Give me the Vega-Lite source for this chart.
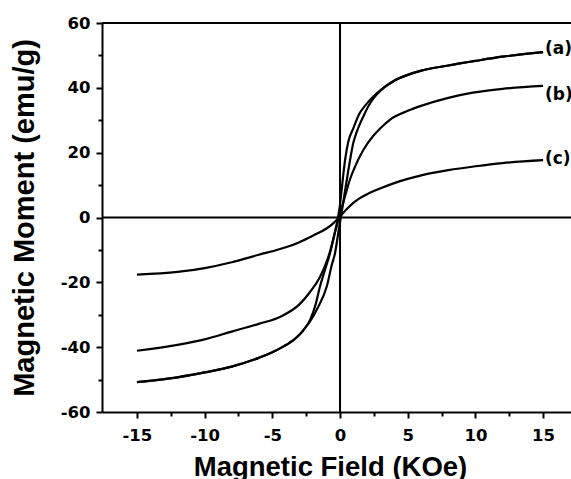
{
  "$schema": "https://vega.github.io/schema/vega-lite/v6.json",
  "autosize": "none",
  "padding": {"left": 102, "top": 23, "right": 0, "bottom": 67},
  "width": 469,
  "height": 389,
  "background": "white",
  "config": {
    "view": {"stroke": null},
    "axis": {
      "grid": false,
      "domainColor": "black",
      "domainWidth": 2,
      "tickColor": "black",
      "tickWidth": 2,
      "labelColor": "black",
      "labelFont": "DejaVu Sans",
      "labelFontWeight": "bold",
      "labelFontSize": 16.5,
      "titleColor": "black",
      "titleFont": "Liberation Sans",
      "titleFontWeight": "bold"
    }
  },
  "datasets": {
    "curves": [
      {"s": "a1", "H": -15, "M": -50.8}, {"s": "a1", "H": -12, "M": -49.3}, {"s": "a1", "H": -10, "M": -47.8},
      {"s": "a1", "H": -8, "M": -46}, {"s": "a1", "H": -6, "M": -43.3}, {"s": "a1", "H": -5, "M": -41.6},
      {"s": "a1", "H": -4.4, "M": -40.3}, {"s": "a1", "H": -3.5, "M": -38}, {"s": "a1", "H": -3, "M": -36.2},
      {"s": "a1", "H": -2.6, "M": -34.2}, {"s": "a1", "H": -2.2, "M": -31.5}, {"s": "a1", "H": -1.8, "M": -26.8},
      {"s": "a1", "H": -1.48, "M": -21.3}, {"s": "a1", "H": -1.1, "M": -16}, {"s": "a1", "H": -0.74, "M": -11},
      {"s": "a1", "H": -0.4, "M": -5}, {"s": "a1", "H": -0.15, "M": 0}, {"s": "a1", "H": 0, "M": 4},
      {"s": "a1", "H": 0.12, "M": 8.5}, {"s": "a1", "H": 0.25, "M": 13.5}, {"s": "a1", "H": 0.4, "M": 18.5},
      {"s": "a1", "H": 0.62, "M": 23.5}, {"s": "a1", "H": 0.98, "M": 27.5}, {"s": "a1", "H": 1.4, "M": 31.8},
      {"s": "a1", "H": 1.85, "M": 34.5}, {"s": "a1", "H": 2.5, "M": 37.5}, {"s": "a1", "H": 3, "M": 39.3},
      {"s": "a1", "H": 4, "M": 42.2}, {"s": "a1", "H": 5, "M": 44}, {"s": "a1", "H": 6, "M": 45.3},
      {"s": "a1", "H": 8, "M": 46.9}, {"s": "a1", "H": 10, "M": 48.3}, {"s": "a1", "H": 12, "M": 49.6},
      {"s": "a1", "H": 15, "M": 51},
      {"s": "a2", "H": -15, "M": -50.8}, {"s": "a2", "H": -12, "M": -49.3}, {"s": "a2", "H": -10, "M": -47.8},
      {"s": "a2", "H": -8, "M": -46}, {"s": "a2", "H": -6, "M": -43.3}, {"s": "a2", "H": -5, "M": -41.6},
      {"s": "a2", "H": -4.4, "M": -40.3}, {"s": "a2", "H": -3.5, "M": -38}, {"s": "a2", "H": -3, "M": -36.2},
      {"s": "a2", "H": -2.6, "M": -34.2}, {"s": "a2", "H": -2.2, "M": -32}, {"s": "a2", "H": -1.6, "M": -27.5},
      {"s": "a2", "H": -0.98, "M": -21.3}, {"s": "a2", "H": -0.6, "M": -14.5}, {"s": "a2", "H": -0.37, "M": -11},
      {"s": "a2", "H": -0.1, "M": -4}, {"s": "a2", "H": 0.1, "M": 1}, {"s": "a2", "H": 0.25, "M": 5},
      {"s": "a2", "H": 0.4, "M": 9}, {"s": "a2", "H": 0.62, "M": 14.7}, {"s": "a2", "H": 0.98, "M": 23},
      {"s": "a2", "H": 1.2, "M": 26}, {"s": "a2", "H": 1.48, "M": 29}, {"s": "a2", "H": 1.85, "M": 32.3},
      {"s": "a2", "H": 2.09, "M": 34.3}, {"s": "a2", "H": 2.5, "M": 36.9}, {"s": "a2", "H": 3, "M": 39.2},
      {"s": "a2", "H": 4, "M": 42.2}, {"s": "a2", "H": 5, "M": 44}, {"s": "a2", "H": 6, "M": 45.3},
      {"s": "a2", "H": 8, "M": 46.9}, {"s": "a2", "H": 10, "M": 48.3}, {"s": "a2", "H": 12, "M": 49.6},
      {"s": "a2", "H": 15, "M": 51},
      {"s": "b", "H": -15, "M": -41.1}, {"s": "b", "H": -12, "M": -39.3}, {"s": "b", "H": -10, "M": -37.6},
      {"s": "b", "H": -8, "M": -35.2}, {"s": "b", "H": -6, "M": -32.8}, {"s": "b", "H": -4.4, "M": -30.6},
      {"s": "b", "H": -3, "M": -26.8}, {"s": "b", "H": -2.2, "M": -22.9}, {"s": "b", "H": -1.5, "M": -18.5},
      {"s": "b", "H": -1, "M": -13.8}, {"s": "b", "H": -0.74, "M": -10.5}, {"s": "b", "H": -0.4, "M": -5},
      {"s": "b", "H": 0, "M": 1}, {"s": "b", "H": 0.4, "M": 7}, {"s": "b", "H": 0.74, "M": 11.8},
      {"s": "b", "H": 1.11, "M": 15.7}, {"s": "b", "H": 1.72, "M": 20.8}, {"s": "b", "H": 2.46, "M": 25.2},
      {"s": "b", "H": 3, "M": 27.6}, {"s": "b", "H": 3.7, "M": 30.2}, {"s": "b", "H": 5, "M": 32.9},
      {"s": "b", "H": 6.1, "M": 34.6}, {"s": "b", "H": 8, "M": 36.9}, {"s": "b", "H": 9.8, "M": 38.5},
      {"s": "b", "H": 12, "M": 39.7}, {"s": "b", "H": 15, "M": 40.6},
      {"s": "c", "H": -15, "M": -17.6}, {"s": "c", "H": -12, "M": -16.8}, {"s": "c", "H": -10, "M": -15.6},
      {"s": "c", "H": -8, "M": -13.8}, {"s": "c", "H": -6, "M": -11.5}, {"s": "c", "H": -4, "M": -9.2},
      {"s": "c", "H": -3, "M": -7.6}, {"s": "c", "H": -2, "M": -5.6}, {"s": "c", "H": -1, "M": -3.4},
      {"s": "c", "H": -0.5, "M": -1.8}, {"s": "c", "H": 0, "M": 0.3}, {"s": "c", "H": 0.5, "M": 2.6},
      {"s": "c", "H": 1, "M": 4.6}, {"s": "c", "H": 2, "M": 7.2}, {"s": "c", "H": 3, "M": 9},
      {"s": "c", "H": 4, "M": 10.6}, {"s": "c", "H": 5, "M": 11.9}, {"s": "c", "H": 6, "M": 13},
      {"s": "c", "H": 8, "M": 14.6}, {"s": "c", "H": 10, "M": 15.8}, {"s": "c", "H": 12, "M": 16.8},
      {"s": "c", "H": 15, "M": 17.7}
    ],
    "labels": [
      {"label": "(a)", "H": 15.14, "M": 51.9},
      {"label": "(b)", "H": 15.14, "M": 37.8},
      {"label": "(c)", "H": 15.14, "M": 17.9}
    ]
  },
  "layer": [
    {
      "data": {"name": "curves"},
      "mark": {"type": "line", "color": "black", "strokeWidth": 2.2, "interpolate": "monotone"},
      "encoding": {
        "x": {
          "field": "H", "type": "quantitative",
          "scale": {"domain": [-17.58, 17.06], "nice": false, "zero": false},
          "axis": {
            "values": [-15, -10, -5, 0, 5, 10, 15],
            "tickSize": 6, "labelPadding": 9,
            "labelExpr": "'' + datum.value",
            "title": "Magnetic Field (KOe)", "titleFontSize": 27.5,
            "titleX": 228, "titleY": 63.5, "titleBaseline": "alphabetic", "titleAlign": "center"
          }
        },
        "y": {
          "field": "M", "type": "quantitative",
          "scale": {"domain": [-60, 60], "nice": false},
          "axis": {
            "values": [-60, -40, -20, 0, 20, 40, 60],
            "tickSize": 6, "labelPadding": 6,
            "labelExpr": "'' + datum.value",
            "title": "Magnetic Moment (emu/g)", "titleFontSize": 29,
            "titleX": -69, "titleY": 194.5, "titleBaseline": "alphabetic", "titleAlign": "center", "titleAngle": -90
          }
        },
        "detail": {"field": "s"}
      }
    },
    {
      "data": {"values": [{"v": 0}]},
      "mark": {"type": "rule", "color": "black", "strokeWidth": 2},
      "encoding": {
        "x": {
          "field": "v", "type": "quantitative",
          "scale": {"domain": [-17.58, 17.06], "nice": false, "zero": false},
          "axis": {"orient": "bottom", "values": [-12.5, -7.5, -2.5, 2.5, 7.5, 12.5], "tickSize": 4, "labels": false, "domain": false, "title": null}
        }
      }
    },
    {
      "data": {"values": [{"v": 0}]},
      "mark": {"type": "rule", "color": "black", "strokeWidth": 2},
      "encoding": {
        "y": {
          "field": "v", "type": "quantitative",
          "scale": {"domain": [-60, 60], "nice": false},
          "axis": {"orient": "left", "values": [-50, -30, -10, 10, 30, 50], "tickSize": 4, "labels": false, "domain": false, "title": null}
        }
      }
    },
    {
      "data": {"values": [{"v": 60}]},
      "mark": {"type": "rule", "color": "black", "strokeWidth": 2},
      "encoding": {
        "y": {"field": "v", "type": "quantitative", "scale": {"domain": [-60, 60], "nice": false}, "axis": null}
      }
    },
    {
      "data": {"name": "labels"},
      "mark": {"type": "text", "align": "left", "baseline": "middle", "font": "DejaVu Sans", "fontWeight": "bold", "fontSize": 17, "color": "black"},
      "encoding": {
        "x": {"field": "H", "type": "quantitative", "scale": {"domain": [-17.58, 17.06], "nice": false, "zero": false}, "axis": null},
        "y": {"field": "M", "type": "quantitative", "scale": {"domain": [-60, 60], "nice": false}, "axis": null},
        "text": {"field": "label"}
      }
    }
  ],
  "resolve": {"axis": {"x": "independent", "y": "independent"}}
}
